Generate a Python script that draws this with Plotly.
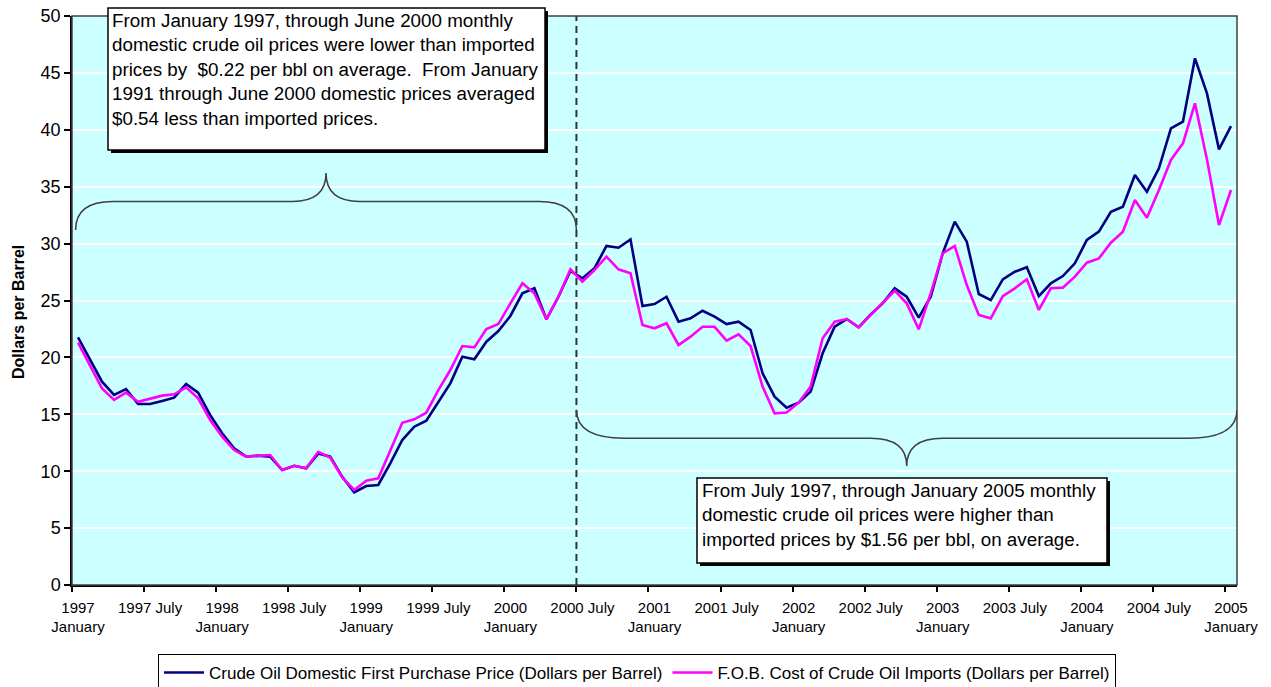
import plotly.graph_objects as go

# ---------------- data ----------------
months_idx = list(range(97))  # Jan 1997 .. Jan 2005

domestic = [21.77, 19.77, 17.87, 16.70, 17.22, 15.90, 15.90, 16.17, 16.46, 17.66, 16.90, 14.94,
            13.33, 12.01, 11.28, 11.37, 11.28, 10.10, 10.48, 10.25, 11.55, 11.28, 9.50, 8.15,
            8.70, 8.79, 10.69, 12.74, 13.91, 14.44, 16.10, 17.72, 20.06, 19.83, 21.38, 22.32,
            23.64, 25.63, 26.07, 23.35, 25.33, 27.60, 26.95, 27.83, 29.79, 29.64, 30.37, 24.52,
            24.69, 25.33, 23.14, 23.43, 24.10, 23.58, 22.93, 23.14, 22.41, 18.60, 16.55, 15.58,
            16.02, 16.99, 20.36, 22.70, 23.37, 22.64, 23.77, 24.75, 26.07, 25.33, 23.49, 25.33,
            29.15, 31.93, 30.17, 25.57, 25.04, 26.86, 27.53, 27.92, 25.39, 26.51, 27.15, 28.27,
            30.32, 31.05, 32.80, 33.24, 36.03, 34.56, 36.61, 40.13, 40.71, 46.28, 43.20, 38.28,
            40.33]

imports = [21.29, 19.33, 17.28, 16.26, 16.90, 16.10, 16.40, 16.64, 16.76, 17.37, 16.40, 14.50,
           13.04, 11.86, 11.28, 11.37, 11.42, 10.10, 10.48, 10.25, 11.70, 11.20, 9.45, 8.35,
           9.17, 9.37, 11.86, 14.26, 14.56, 15.14, 17.13, 18.89, 21.00, 20.88, 22.50, 22.93,
           24.75, 26.51, 25.63, 23.35, 25.33, 27.74, 26.66, 27.68, 28.85, 27.74, 27.39, 22.85,
           22.56, 23.00, 21.09, 21.82, 22.69, 22.69, 21.47, 22.03, 21.00, 17.43, 15.09, 15.15,
           16.02, 17.43, 21.68, 23.14, 23.37, 22.64, 23.73, 24.75, 25.86, 24.75, 22.47, 25.63,
           29.15, 29.79, 26.36, 23.73, 23.43, 25.39, 26.07, 26.86, 24.17, 26.07, 26.13, 27.10,
           28.32, 28.70, 30.08, 31.05, 33.83, 32.27, 34.71, 37.35, 38.81, 42.33, 37.40, 31.63,
           34.71]

tick_idx = list(range(0, 97, 6))
tick_text = []
for k in tick_idx:
    yr = 1997 + k // 12
    tick_text.append(f"{yr}<br>January" if k % 12 == 0 else f"{yr} July")

series_names = ["Crude Oil Domestic First Purchase Price (Dollars per Barrel)",
                "F.O.B. Cost of Crude Oil Imports (Dollars per Barrel)"]
series_colors = ["#000080", "#FF00FF"]

note1 = ("From January 1997, through June 2000 monthly<br>"
         "domestic crude oil prices were lower than imported<br>"
         "prices by  $0.22 per bbl on average.  From January<br>"
         "1991 through June 2000 domestic prices averaged<br>"
         "$0.54 less than imported prices.")
note2 = ("From July 1997, through January 2005 monthly<br>"
         "domestic crude oil prices were higher than<br>"
         "imported prices by $1.56 per bbl, on average.")

# ---------------- layout helpers ----------------
W, H = 1271, 687
L, R, T, B = 72, 34, 16, 102
PW, PH = W - L - R, H - T - B


def px(x):
    return (x - L) / PW


def py(y):
    return (H - B - y) / PH


FONT = "Liberation Sans, Arial, sans-serif"

fig = go.Figure()
for vals, name, col in zip([domestic, imports], series_names, series_colors):
    fig.add_trace(go.Scatter(x=months_idx, y=vals, mode="lines", name=name,
                             line=dict(color=col, width=2.6)))


def brace(x0, x1, y_end, y_flat, y_tip, w_end, w_tip):
    xm = (x0 + x1) / 2
    return (f"M {x0},{y_end} Q {x0},{y_flat} {x0 + w_end},{y_flat} "
            f"L {xm - w_tip},{y_flat} Q {xm},{y_flat} {xm},{y_tip} "
            f"Q {xm},{y_flat} {xm + w_tip},{y_flat} "
            f"L {x1 - w_end},{y_flat} Q {x1},{y_flat} {x1},{y_end}")


split = 41.5
shapes = [
    # plot border (top/right)
    dict(type="rect", xref="paper", yref="paper", x0=0, x1=1, y0=0, y1=1,
         line=dict(color="#404040", width=1.5), layer="above"),
    dict(type="line", xref="x", yref="paper", x0=split, x1=split, y0=0, y1=1,
         line=dict(color="#333333", width=2, dash="7px,5px")),
    dict(type="path", xref="x", yref="y",
         path=brace(-0.2, split, 31.2, 33.7, 36.2, 3.1, 2.8),
         line=dict(color="#404040", width=1.5)),
    dict(type="path", xref="x", yref="y",
         path=brace(split, 96.5, 15.4, 12.9, 10.45, 4.0, 3.0),
         line=dict(color="#404040", width=1.5)),
]

# text boxes with shadow
for (x0, y0, x1, y1) in [(108, 8, 545, 150), (697, 478, 1107, 563)]:
    shapes.append(dict(type="rect", xref="paper", yref="paper",
                       x0=px(x0 + 3), x1=px(x1 + 3), y0=py(y1 + 3), y1=py(y0 + 3),
                       fillcolor="black", line=dict(width=0), layer="above"))
    shapes.append(dict(type="rect", xref="paper", yref="paper",
                       x0=px(x0), x1=px(x1), y0=py(y1), y1=py(y0),
                       fillcolor="white", line=dict(color="black", width=1.5), layer="above"))

annotations = [
    dict(xref="paper", yref="paper", x=px(110), y=py(8), xanchor="left", yanchor="top",
         text=note1, showarrow=False, align="left",
         font=dict(family=FONT, size=18.8, color="black")),
    dict(xref="paper", yref="paper", x=px(700), y=py(478), xanchor="left", yanchor="top",
         text=note2, showarrow=False, align="left",
         font=dict(family=FONT, size=18.8, color="black")),
    dict(xref="paper", yref="paper", x=px(18), y=py(312), xanchor="center", yanchor="middle",
         text="<b>Dollars per Barrel</b>", textangle=-90, showarrow=False,
         font=dict(family=FONT, size=16, color="black")),
]

fig.update_layout(
    width=W, height=H,
    margin=dict(l=L, r=R, t=T, b=B, autoexpand=False),
    paper_bgcolor="white",
    plot_bgcolor="#CCFFFF",
    font=dict(family=FONT, color="black"),
    showlegend=True,
    legend=dict(orientation="h", x=px(637), xanchor="center", y=py(654), yanchor="top",
                bordercolor="black", borderwidth=1, bgcolor="white",
                font=dict(family=FONT, size=17, color="black"),
                itemwidth=40, tracegroupgap=0),
    shapes=shapes,
    annotations=annotations,
)

fig.update_xaxes(range=[-0.5, 96.5], tickmode="array", tickvals=tick_idx, ticktext=tick_text,
                 ticks="outside", ticklen=8, tickcolor="rgba(0,0,0,0)", automargin=False,
                 showgrid=False, zeroline=False, showline=True, linecolor="black", linewidth=1.5,
                 tickfont=dict(family=FONT, size=15, color="black"),
                 minor=dict(tickmode="array", tickvals=[k - 0.5 for k in tick_idx],
                            ticks="outside", ticklen=5, tickcolor="black", tickwidth=1.5,
                            showgrid=False))

fig.update_yaxes(range=[0, 50], tickmode="linear", tick0=0, dtick=5, automargin=False,
                 ticks="outside", ticklen=6, tickcolor="black", tickwidth=1.5,
                 showgrid=True, gridcolor="white", gridwidth=1.5, zeroline=False,
                 showline=True, linecolor="black", linewidth=1.5,
                 tickfont=dict(family=FONT, size=18, color="black"))

fig.write_html("out.html", config={"displayModeBar": False},
               post_script="document.body.style.margin='0px';document.body.style.overflow='hidden';")
